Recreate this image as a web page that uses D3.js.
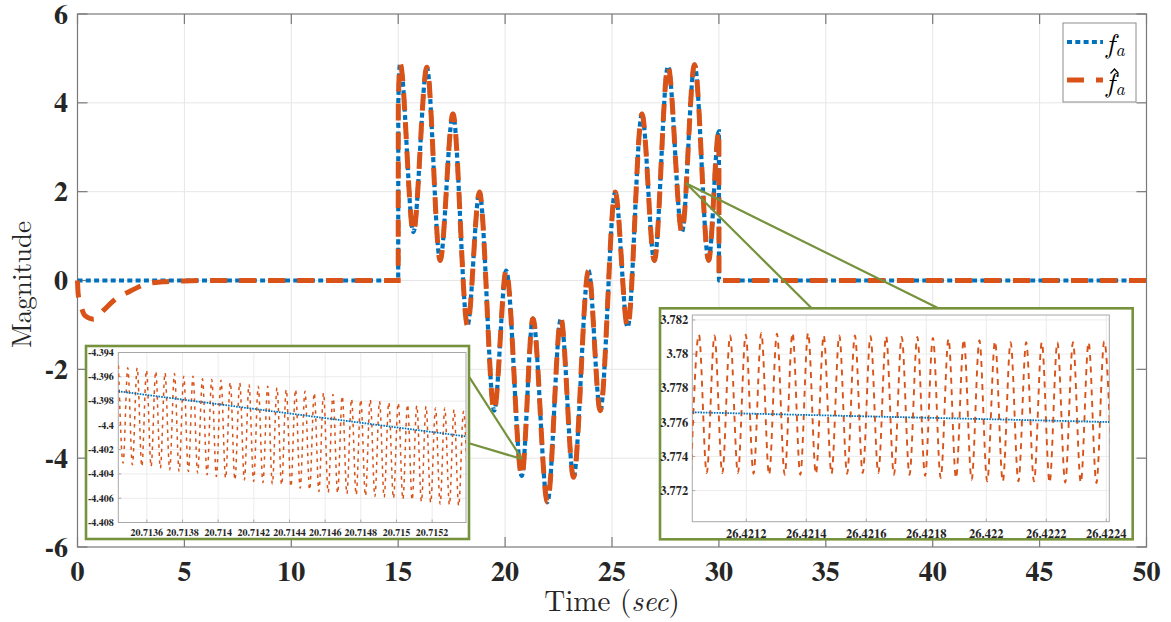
<!DOCTYPE html>
<html><head><meta charset="utf-8">
<script src="https://cdn.jsdelivr.net/npm/d3@7"></script>
<style>body{margin:0;background:#fff} svg{display:block}</style>
</head><body>
<svg id="c" width="1171" height="622"></svg>
<script>
// ---------------- DATA ----------------
const xTicks = [0,5,10,15,20,25,30,35,40,45,50];
const yTicks = [-6,-4,-2,0,2,4,6];

// f_a : extrema
const faT = [0, 15.0, 15.005, 15.09, 15.71, 16.34, 16.96, 17.56, 18.24, 18.80, 19.49, 20.05, 20.78, 21.30, 21.98, 22.61, 23.20, 23.90, 24.45, 25.15, 25.73, 26.40, 26.98, 27.62, 28.27, 28.86, 29.52, 30.0, 30.005, 50];
const faV = [0, 0, 4.0, 4.88, 1.09, 4.80, 0.45, 3.75, -1.01, 1.99, -2.93, 0.225, -4.40, -0.86, -4.99, -0.86, -4.43, 0.225, -2.93, 1.99, -1.05, 3.75, 0.45, 4.82, 1.09, 4.86, 0.45, 3.36, 0, 0];

// f_a hat : initial transient, then it follows f_a
const fhEarlyT = [0, 0.03, 0.12, 0.35, 0.75, 1.2, 1.7, 2.5, 3.2, 4.0, 5.0, 6.0];
const fhEarlyV = [0, -0.30, -0.49, -0.79, -0.87, -0.68, -0.45, -0.23, -0.08, -0.03, -0.01, 0];

// Inset 1 (around t = 20.714)
const in1XTicks = [20.7136,20.7138,20.714,20.7142,20.7144,20.7146,20.7148,20.715,20.7152];
const in1XLabels = ["20.7136","20.7138","20.714","20.7142","20.7144","20.7146","20.7148","20.715","20.7152"];
const in1YTicks = [-4.408,-4.406,-4.404,-4.402,-4.4,-4.398,-4.396,-4.394];
const in1YLabels = ["-4.408","-4.406","-4.404","-4.402","-4.4","-4.398","-4.396","-4.394"];
const in1FaT = [20.71344, 20.71539];
const in1FaV = [-4.39719, -4.40091];
const in1PeakT = [20.713441,20.713493,20.713546,20.713598,20.713650,20.713702,20.713755,20.713807,20.713859,20.713912,20.713964,20.714016,20.714068,20.714121,20.714173,20.714225,20.714278,20.714330,20.714382,20.714434,20.714487,20.714539,20.714591,20.714644,20.714696,20.714748,20.714800,20.714853,20.714905,20.714957,20.715010,20.715062,20.715114,20.715166,20.715219,20.715271,20.715323,20.715376];
const in1PeakV = [-4.39507,-4.39526,-4.39526,-4.39545,-4.39554,-4.39567,-4.39573,-4.39595,-4.39595,-4.39617,-4.39623,-4.39628,-4.39645,-4.39650,-4.39664,-4.39678,-4.39678,-4.39691,-4.39705,-4.39705,-4.39719,-4.39733,-4.39733,-4.39746,-4.39760,-4.39782,-4.39788,-4.39788,-4.39802,-4.39810,-4.39815,-4.39829,-4.39837,-4.39843,-4.39857,-4.39857,-4.39870,-4.39884];
const in1TroughT = [20.713467,20.713519,20.713572,20.713624,20.713676,20.713728,20.713781,20.713833,20.713885,20.713938,20.713990,20.714042,20.714094,20.714147,20.714199,20.714251,20.714304,20.714356,20.714408,20.714460,20.714513,20.714565,20.714617,20.714670,20.714722,20.714774,20.714826,20.714879,20.714931,20.714983,20.715036,20.715088,20.715140,20.715192,20.715245,20.715297,20.715349,20.715402];
const in1TroughV = [-4.40311,-4.40325,-4.40338,-4.40338,-4.40352,-4.40366,-4.40380,-4.40380,-4.40393,-4.40407,-4.40421,-4.40435,-4.40449,-4.40449,-4.40462,-4.40471,-4.40482,-4.40490,-4.40504,-4.40517,-4.40531,-4.40545,-4.40553,-4.40559,-4.40564,-4.40572,-4.40581,-4.40586,-4.40592,-4.40600,-4.40608,-4.40614,-4.40628,-4.40636,-4.40647,-4.40655,-4.40663,-4.40669];

// Inset 2 (around t = 26.4218)
const in2XTicks = [26.4212,26.4214,26.4216,26.4218,26.422,26.4222,26.4224];
const in2XLabels = ["26.4212","26.4214","26.4216","26.4218","26.422","26.4222","26.4224"];
const in2YTicks = [3.772,3.774,3.776,3.778,3.78,3.782];
const in2YLabels = ["3.772","3.774","3.776","3.778","3.78","3.782"];
const in2FaT = [26.42102, 26.42241];
const in2FaV = [3.77659, 3.77602];
const in2PeakT = [26.421042,26.421094,26.421146,26.421198,26.421250,26.421302,26.421354,26.421406,26.421458,26.421510,26.421562,26.421614,26.421666,26.421718,26.421770,26.421822,26.421874,26.421925,26.421977,26.422029,26.422081,26.422133,26.422185,26.422237,26.422289,26.422341,26.422393];
const in2PeakV = [3.78114,3.78109,3.78109,3.78114,3.78124,3.78120,3.78124,3.78124,3.78109,3.78109,3.78109,3.78105,3.78105,3.78101,3.78101,3.78095,3.78089,3.78085,3.78081,3.78075,3.78069,3.78069,3.78069,3.78069,3.78069,3.78069,3.78075];
const in2TroughT = [26.421016,26.421068,26.421120,26.421172,26.421224,26.421276,26.421328,26.421380,26.421432,26.421484,26.421536,26.421588,26.421640,26.421692,26.421744,26.421796,26.421848,26.421899,26.421951,26.422003,26.422055,26.422107,26.422159,26.422211,26.422263,26.422315,26.422367,26.422419];
const in2TroughV = [3.77310,3.77303,3.77303,3.77303,3.77299,3.77293,3.77293,3.77293,3.77299,3.77299,3.77299,3.77303,3.77303,3.77293,3.77293,3.77287,3.77274,3.77274,3.77264,3.77254,3.77254,3.77254,3.77254,3.77248,3.77248,3.77248,3.77244,3.77240];

// zoom anchor points on the main curve (data coords)
const anchor1 = [20.79, -4.02];
const anchor2 = [28.46, 2.19];

// ---------------- FONTS (touch them so they are ready) ----------------
const TIMES = 'FreeSerif, "Liberation Serif", "Times New Roman", serif';
const CM = '"Latin Modern Roman", FreeSerif, serif';
(function(){
  const c = document.createElement("canvas").getContext("2d");
  ["", "bold ", "italic "].forEach(s=>{
    ['FreeSerif','"Liberation Serif"','"Latin Modern Roman"'].forEach(f=>{
      c.font = s + "30px " + f; c.measureText("Magnitude Time sec 0123456789 f a -.");
    });
  });
})();

// ---------------- DRAW ----------------
const svg = d3.select("#c");
const BLUE = "#0072BD", ORANGE = "#D95319", OLIVE = "#76923C", INK = "#262626";
const L = 77.5, R = 1146.5, T = 14, B = 547;
const x = d3.scaleLinear([0,50],[L,R]);
const y = d3.scaleLinear([-6,6],[B,T]);

svg.append("rect").attr("width",1171).attr("height",622).attr("fill","#fff");
const defs = svg.append("defs");

// grid
const g = svg.append("g");
g.selectAll(".gx").data(xTicks.slice(1,-1)).join("line").attr("class","gx")
  .attr("x1",d=>x(d)).attr("x2",d=>x(d)).attr("y1",T).attr("y2",B)
  .attr("stroke","#e6e6e6").attr("stroke-width",1);
g.selectAll(".gy").data(yTicks.slice(1,-1)).join("line").attr("class","gy")
  .attr("y1",d=>y(d)).attr("y2",d=>y(d)).attr("x1",L).attr("x2",R)
  .attr("stroke","#e6e6e6").attr("stroke-width",1);

// axes box + inward ticks
const AX = "#7a7a7a";
svg.append("rect").attr("x",L).attr("y",T).attr("width",R-L).attr("height",B-T)
  .attr("fill","none").attr("stroke",AX).attr("stroke-width",1.2);
const tk = svg.append("g").attr("stroke",AX).attr("stroke-width",1.2);
xTicks.forEach(t=>{
  tk.append("line").attr("x1",x(t)).attr("x2",x(t)).attr("y1",B).attr("y2",B-10);
  tk.append("line").attr("x1",x(t)).attr("x2",x(t)).attr("y1",T).attr("y2",T+10);
});
yTicks.forEach(v=>{
  tk.append("line").attr("y1",y(v)).attr("y2",y(v)).attr("x1",L).attr("x2",L+10);
  tk.append("line").attr("y1",y(v)).attr("y2",y(v)).attr("x1",R).attr("x2",R-10);
});

// tick labels (bold Times-like)
function boldTimes(sel, fs){
  sel.style("font-family",TIMES).style("font-weight","bold").attr("font-size",fs).attr("fill",INK);
}
svg.append("g").selectAll("text").data(xTicks).join("text")
  .attr("x",d=>x(d)).attr("y",581).attr("text-anchor","middle")
  .call(boldTimes,28).text(d=>String(d));
svg.append("g").selectAll("text").data(yTicks).join("text")
  .attr("x",68).attr("y",d=>y(d)+9.5).attr("text-anchor","end")
  .call(boldTimes,28).text(d=>String(d));

// axis titles
const xt = svg.append("text").attr("x",(L+R)/2).attr("y",611).attr("text-anchor","middle")
  .style("font-family",CM).attr("font-size",29).attr("fill",INK);
xt.append("tspan").text("Time (");
xt.append("tspan").style("font-style","italic").text("sec");
xt.append("tspan").text(")");
svg.append("text").attr("transform",`translate(31,${(T+B)/2+4}) rotate(-90)`).attr("text-anchor","middle")
  .style("font-family",CM).attr("font-size",27).attr("fill",INK).text("Magnitude");

// curves
const fa = faT.map((t,i)=>[t,faV[i]]);
const fh = fhEarlyT.map((t,i)=>[t,fhEarlyV[i]]).concat(fa.filter(d=>d[0]>=15));
const line = d3.line().x(d=>x(d[0])).y(d=>y(d[1])).curve(d3.curveMonotoneX);
defs.append("clipPath").attr("id","mainclip").append("rect")
  .attr("x",L-4).attr("y",T).attr("width",R-L+4).attr("height",B-T);
const cg = svg.append("g").attr("clip-path","url(#mainclip)");
cg.append("path").attr("d",line(fa)).attr("fill","none").attr("stroke",BLUE)
  .attr("stroke-width",4.2).attr("stroke-dasharray","5,3.3");
cg.append("path").attr("d",line(fh)).attr("fill","none").attr("stroke",ORANGE)
  .attr("stroke-width",5).attr("stroke-dasharray","17,12");

// connectors
const cn = svg.append("g").attr("stroke",OLIVE).attr("stroke-width",2.2).attr("fill","none");
const a1 = [x(anchor1[0]), y(anchor1[1])];
const a2 = [x(anchor2[0]), y(anchor2[1])];
cn.append("line").attr("x1",469).attr("y1",376.7).attr("x2",a1[0]).attr("y2",a1[1]);
cn.append("line").attr("x1",469).attr("y1",443.3).attr("x2",a1[0]).attr("y2",a1[1]);
cn.append("line").attr("x1",a2[0]).attr("y1",a2[1]).attr("x2",811.7).attr("y2",308.3);
cn.append("line").attr("x1",a2[0]).attr("y1",a2[1]).attr("x2",938.3).attr("y2",308.3);

// insets
function inset(opt){
  const gi = svg.append("g");
  gi.append("rect").attr("x",opt.fx).attr("y",opt.fy).attr("width",opt.fw).attr("height",opt.fh)
    .attr("fill","#fff").attr("stroke",OLIVE).attr("stroke-width",2.6);
  const ix = d3.scaleLinear(opt.xd,[opt.ix,opt.ix+opt.iw]);
  const iy = d3.scaleLinear(opt.yd,[opt.iy+opt.ih,opt.iy]);
  gi.selectAll(".gx").data(opt.xt).join("line").attr("class","gx")
    .attr("x1",d=>ix(d)).attr("x2",d=>ix(d)).attr("y1",opt.iy).attr("y2",opt.iy+opt.ih)
    .attr("stroke","#ececec");
  gi.selectAll(".gy").data(opt.yt).join("line").attr("class","gy")
    .attr("y1",d=>iy(d)).attr("y2",d=>iy(d)).attr("x1",opt.ix).attr("x2",opt.ix+opt.iw)
    .attr("stroke","#ececec");
  gi.append("rect").attr("x",opt.ix).attr("y",opt.iy).attr("width",opt.iw).attr("height",opt.ih)
    .attr("fill","none").attr("stroke","#a8a8a8").attr("stroke-width",1);
  gi.selectAll(".tx").data(opt.xt).join("line").attr("class","tx")
    .attr("x1",d=>ix(d)).attr("x2",d=>ix(d)).attr("y1",opt.iy+opt.ih).attr("y2",opt.iy+opt.ih-3).attr("stroke","#a8a8a8");
  gi.selectAll(".ty").data(opt.yt).join("line").attr("class","ty")
    .attr("y1",d=>iy(d)).attr("y2",d=>iy(d)).attr("x1",opt.ix).attr("x2",opt.ix+3).attr("stroke","#a8a8a8");
  gi.selectAll(".lx").data(opt.xt).join("text").attr("class","lx")
    .attr("x",d=>ix(d)).attr("y",opt.iy+opt.ih+opt.xlOff).attr("text-anchor","middle")
    .call(boldTimes,opt.fs).text((d,i)=>opt.xl[i]);
  gi.selectAll(".ly").data(opt.yt).join("text").attr("class","ly")
    .attr("x",opt.ix-opt.ylOff).attr("y",d=>iy(d)+opt.fs*0.34).attr("text-anchor","end")
    .call(boldTimes,opt.fs).text((d,i)=>opt.yl[i]);
  const cid = "clip"+opt.id;
  defs.append("clipPath").attr("id",cid).append("rect")
    .attr("x",opt.ix).attr("y",opt.iy).attr("width",opt.iw).attr("height",opt.ih);
  const lg = gi.append("g").attr("clip-path",`url(#${cid})`);
  const il = d3.line().x(d=>ix(d[0])).y(d=>iy(d[1])).curve(d3.curveMonotoneX);
  const osc = opt.pt.map((t,i)=>[t,opt.pv[i]]).concat(opt.tt.map((t,i)=>[t,opt.tv[i]]))
    .sort((a,b)=>a[0]-b[0]);
  lg.append("path").attr("d",il(osc)).attr("fill","none").attr("stroke",ORANGE)
    .attr("stroke-width",opt.ow).attr("stroke-dasharray",opt.od);
  lg.append("path").attr("d",il(opt.fa)).attr("fill","none").attr("stroke",BLUE)
    .attr("stroke-width",1.8).attr("stroke-dasharray","1.6,1.1");
}

inset({id:1, fx:86, fy:346, fw:383, fh:193, ix:118.3, iy:352.5, iw:347.7, ih:170,
  xd:[20.71344,20.71539], yd:[-4.408,-4.394], xt:in1XTicks, xl:in1XLabels, yt:in1YTicks, yl:in1YLabels,
  fs:10, xlOff:13.5, ylOff:4.5, fa:in1FaT.map((t,i)=>[t,in1FaV[i]]),
  pt:in1PeakT, pv:in1PeakV, tt:in1TroughT, tv:in1TroughV, ow:1.5, od:"3.5,4.5"});
inset({id:2, fx:660, fy:308.3, fw:472.7, fh:231, ix:692.3, iy:315, iw:417, ih:206.7,
  xd:[26.42102,26.42241], yd:[3.77018,3.78229], xt:in2XTicks, xl:in2XLabels, yt:in2YTicks, yl:in2YLabels,
  fs:12.5, xlOff:16, ylOff:4, fa:in2FaT.map((t,i)=>[t,in2FaV[i]]),
  pt:in2PeakT, pv:in2PeakV, tt:in2TroughT, tv:in2TroughV, ow:1.9, od:"6,5.5"});

// legend
const lgd = svg.append("g");
lgd.append("rect").attr("x",1063).attr("y",23).attr("width",73).attr("height",79)
  .attr("fill","#fff").attr("stroke","#8c8c8c").attr("stroke-width",1);
lgd.append("line").attr("x1",1067).attr("x2",1103).attr("y1",42).attr("y2",42)
  .attr("stroke",BLUE).attr("stroke-width",4.2).attr("stroke-dasharray","5,3.3");
lgd.append("line").attr("x1",1067).attr("x2",1103).attr("y1",80).attr("y2",80)
  .attr("stroke",ORANGE).attr("stroke-width",5).attr("stroke-dasharray","17,12");
const t1 = lgd.append("text").attr("x",1106).attr("y",52.5).style("font-family",CM)
  .style("font-style","italic").attr("font-size",28).attr("fill","#000");
t1.append("tspan").text("f");
t1.append("tspan").attr("font-size",18).attr("dy",3).attr("dx",1).text("a");
const t2 = lgd.append("text").attr("x",1106).attr("y",91.5).style("font-family",CM)
  .style("font-style","italic").attr("font-size",28).attr("fill","#000");
t2.append("tspan").text("f");
t2.append("tspan").attr("font-size",18).attr("dy",3).attr("dx",1).text("a");
// the hat accent over the second f
lgd.append("path").attr("d","M1110.5,73.5 L1114.5,69 L1118.5,73.5")
  .attr("fill","none").attr("stroke","#000").attr("stroke-width",1.2).attr("stroke-linejoin","miter");
</script>
</body></html>
